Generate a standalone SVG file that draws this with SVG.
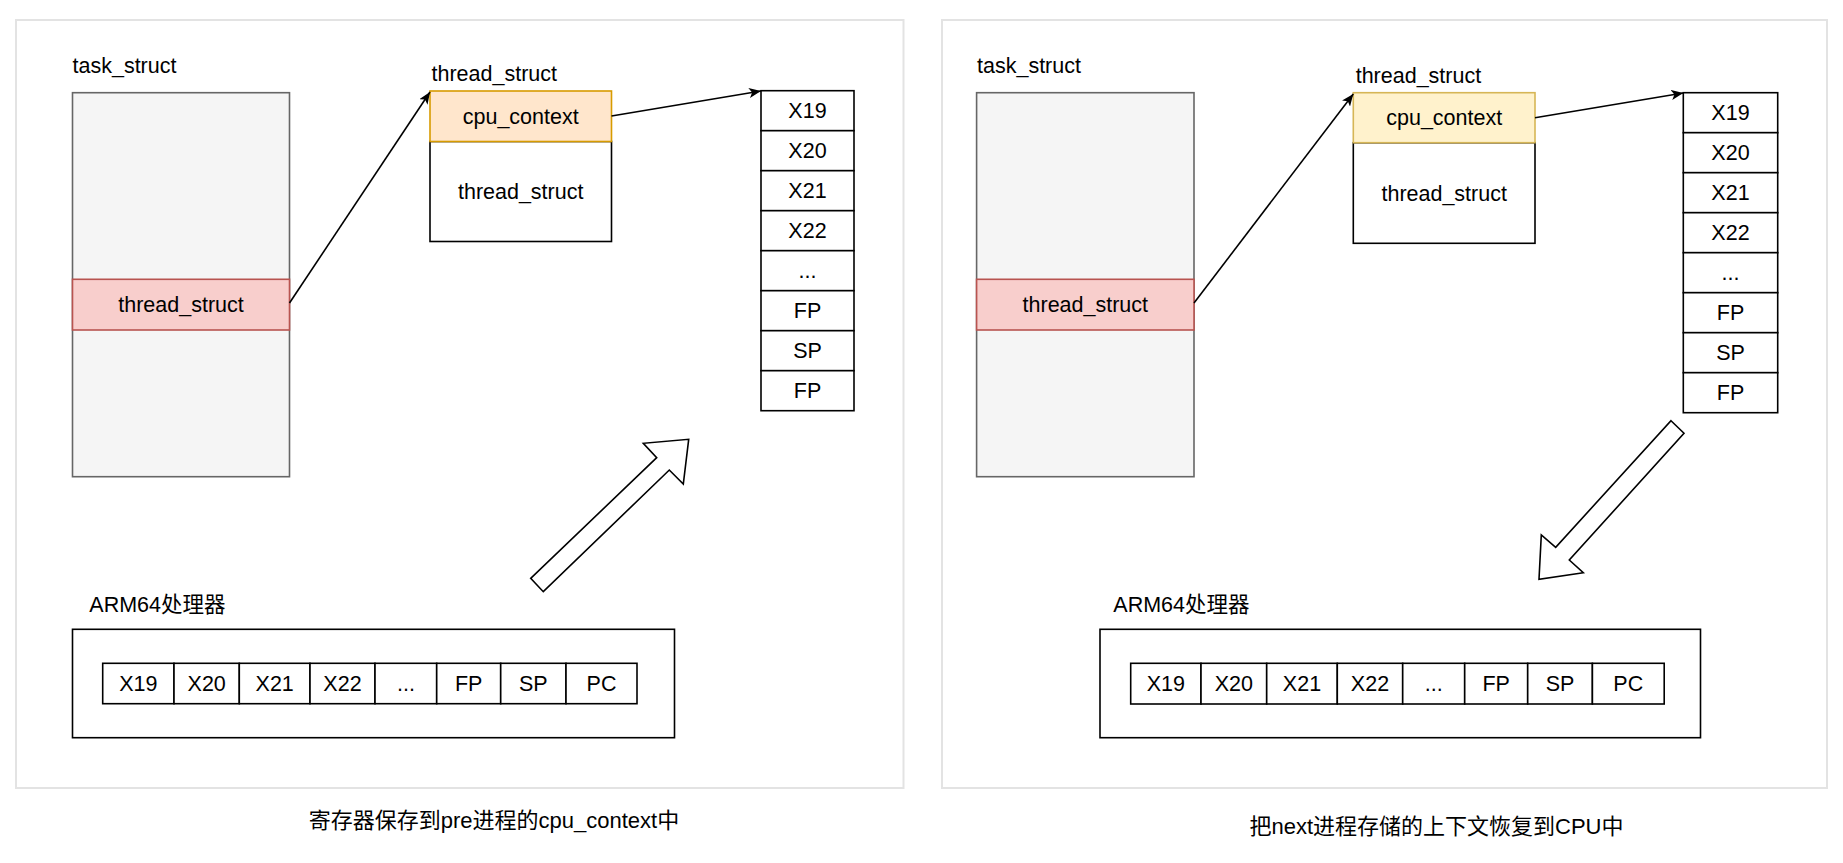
<svg xmlns="http://www.w3.org/2000/svg" width="1843" height="863" viewBox="0 0 1843 863">
<style>
text{font-family:"Liberation Sans","Noto Sans CJK SC",sans-serif;font-size:21.5px;fill:#000}
.c{text-anchor:middle}
.cap{font-size:22px}
.panel{fill:#fff;stroke:#e3e3e3;stroke-width:2}
.task{fill:#f5f5f5;stroke:#666;stroke-width:1.6}
.red{fill:#f8cecc;stroke:#b85450;stroke-width:1.6}
.orange{fill:#ffe6cc;stroke:#d79b00;stroke-width:1.6}
.yellow{fill:#fff2cc;stroke:#d6b656;stroke-width:1.6}
.box{fill:#fff;stroke:#000;stroke-width:1.6}
.edge{fill:none;stroke:#000;stroke-width:1.6}
.big{fill:#fff;stroke:#000;stroke-width:1.6;stroke-linejoin:miter}
</style>
<defs>
<marker id="arr" viewBox="0 0 12 10" refX="12" refY="5" markerWidth="12" markerHeight="10" markerUnits="userSpaceOnUse" orient="auto">
<path d="M0,0 L12,5 L0,10 L3,5 Z" fill="#000"/>
</marker>
</defs>
<rect width="1843" height="863" fill="#fff"/>

<g id="panel-left">
<rect class="panel" x="16" y="20" width="887.5" height="768"/>
</g>
<g id="panel-right">
<rect class="panel" x="942" y="20" width="885" height="768"/>
</g>

<!-- LEFT -->
<g id="task-left">
<text x="72.5" y="73">task_struct</text>
<rect class="task" x="72.5" y="92.7" width="217" height="384"/>
</g>
<g id="thread-band-left">
<rect class="red" x="72.5" y="279.3" width="217" height="50.7"/>
<text class="c" x="181" y="312">thread_struct</text>
</g>
<g id="thread-left">
<text x="431.5" y="80.5">thread_struct</text>
<rect class="box" x="430" y="141.5" width="181.5" height="100"/>
<text class="c" x="520.7" y="199">thread_struct</text>
</g>
<g id="cpuctx-left">
<rect class="orange" x="430" y="91" width="181.5" height="50.5"/>
<text class="c" x="520.7" y="124">cpu_context</text>
</g>
<g id="regcol-left">
<rect class="box" x="761" y="90.7" width="93" height="40"/>
<text class="c" x="807.5" y="118.4">X19</text>
<rect class="box" x="761" y="130.7" width="93" height="40"/>
<text class="c" x="807.5" y="158.4">X20</text>
<rect class="box" x="761" y="170.7" width="93" height="40"/>
<text class="c" x="807.5" y="198.4">X21</text>
<rect class="box" x="761" y="210.7" width="93" height="40"/>
<text class="c" x="807.5" y="238.4">X22</text>
<rect class="box" x="761" y="250.7" width="93" height="40"/>
<text class="c" x="807.5" y="278.4">...</text>
<rect class="box" x="761" y="290.7" width="93" height="40"/>
<text class="c" x="807.5" y="318.4">FP</text>
<rect class="box" x="761" y="330.7" width="93" height="40"/>
<text class="c" x="807.5" y="358.4">SP</text>
<rect class="box" x="761" y="370.7" width="93" height="40"/>
<text class="c" x="807.5" y="398.4">FP</text>
</g>
<g id="cpu-left">
<text x="89.3" y="611.7">ARM64处理器</text>
<rect class="box" x="72.5" y="629.3" width="602" height="108.4"/>
<rect class="box" x="102.7" y="663.3" width="71.3" height="40.4"/>
<text class="c" x="138.4" y="691">X19</text>
<rect class="box" x="174" y="663.3" width="65.3" height="40.4"/>
<text class="c" x="206.7" y="691">X20</text>
<rect class="box" x="239.3" y="663.3" width="70.7" height="40.4"/>
<text class="c" x="274.7" y="691">X21</text>
<rect class="box" x="310" y="663.3" width="65" height="40.4"/>
<text class="c" x="342.5" y="691">X22</text>
<rect class="box" x="375" y="663.3" width="61.7" height="40.4"/>
<text class="c" x="405.9" y="691">...</text>
<rect class="box" x="436.7" y="663.3" width="64" height="40.4"/>
<text class="c" x="468.7" y="691">FP</text>
<rect class="box" x="500.7" y="663.3" width="65.3" height="40.4"/>
<text class="c" x="533.3" y="691">SP</text>
<rect class="box" x="566" y="663.3" width="71" height="40.4"/>
<text class="c" x="601.5" y="691">PC</text>
</g>
<g id="caption-left">
<text class="c cap" x="494" y="827.5">寄存器保存到pre进程的cpu_context中</text>
</g>

<!-- RIGHT -->
<g id="task-right">
<text x="977" y="73">task_struct</text>
<rect class="task" x="976.6" y="92.7" width="217.4" height="384"/>
</g>
<g id="thread-band-right">
<rect class="red" x="976.6" y="279.3" width="217.4" height="50.7"/>
<text class="c" x="1085.3" y="312">thread_struct</text>
</g>
<g id="thread-right">
<text x="1355.7" y="83.3">thread_struct</text>
<rect class="box" x="1353.3" y="142.7" width="181.7" height="100.6"/>
<text class="c" x="1444.2" y="200.5">thread_struct</text>
</g>
<g id="cpuctx-right">
<rect class="yellow" x="1353.3" y="92.7" width="181.7" height="50"/>
<text class="c" x="1444.2" y="125.2">cpu_context</text>
</g>
<g id="regcol-right">
<rect class="box" x="1683.3" y="92.7" width="94.4" height="40"/>
<text class="c" x="1730.5" y="120.4">X19</text>
<rect class="box" x="1683.3" y="132.7" width="94.4" height="40"/>
<text class="c" x="1730.5" y="160.4">X20</text>
<rect class="box" x="1683.3" y="172.7" width="94.4" height="40"/>
<text class="c" x="1730.5" y="200.4">X21</text>
<rect class="box" x="1683.3" y="212.7" width="94.4" height="40"/>
<text class="c" x="1730.5" y="240.4">X22</text>
<rect class="box" x="1683.3" y="252.7" width="94.4" height="40"/>
<text class="c" x="1730.5" y="280.4">...</text>
<rect class="box" x="1683.3" y="292.7" width="94.4" height="40"/>
<text class="c" x="1730.5" y="320.4">FP</text>
<rect class="box" x="1683.3" y="332.7" width="94.4" height="40"/>
<text class="c" x="1730.5" y="360.4">SP</text>
<rect class="box" x="1683.3" y="372.7" width="94.4" height="40"/>
<text class="c" x="1730.5" y="400.4">FP</text>
</g>
<g id="cpu-right">
<text x="1113.3" y="612.3">ARM64处理器</text>
<rect class="box" x="1100" y="629.3" width="600.5" height="108.4"/>
<rect class="box" x="1130.7" y="663.3" width="70.3" height="40.7"/>
<text class="c" x="1165.9" y="691.2">X19</text>
<rect class="box" x="1201" y="663.3" width="65.7" height="40.7"/>
<text class="c" x="1233.9" y="691.2">X20</text>
<rect class="box" x="1266.7" y="663.3" width="70.6" height="40.7"/>
<text class="c" x="1302" y="691.2">X21</text>
<rect class="box" x="1337.3" y="663.3" width="65.4" height="40.7"/>
<text class="c" x="1370" y="691.2">X22</text>
<rect class="box" x="1402.7" y="663.3" width="62" height="40.7"/>
<text class="c" x="1433.7" y="691.2">...</text>
<rect class="box" x="1464.7" y="663.3" width="63" height="40.7"/>
<text class="c" x="1496.2" y="691.2">FP</text>
<rect class="box" x="1527.7" y="663.3" width="64.7" height="40.7"/>
<text class="c" x="1560" y="691.2">SP</text>
<rect class="box" x="1592.4" y="663.3" width="71.8" height="40.7"/>
<text class="c" x="1628.3" y="691.2">PC</text>
</g>
<g id="caption-right">
<text class="c cap" x="1436.5" y="834">把next进程存储的上下文恢复到CPU中</text>
</g>

<g id="connectors">
<line class="edge" x1="289.5" y1="303" x2="430" y2="92" marker-end="url(#arr)"/>
<line class="edge" x1="611.5" y1="116" x2="761" y2="91" marker-end="url(#arr)"/>
<line class="edge" x1="1194" y1="303" x2="1353.3" y2="94" marker-end="url(#arr)"/>
<line class="edge" x1="1535" y1="117.7" x2="1683.3" y2="93" marker-end="url(#arr)"/>
<polygon class="big" points="530.7,578.3 656.7,457.7 643.3,443.3 688.7,439.3 683.3,484 669.3,470 543.3,591.7"/>
<polygon class="big" points="1671,420.7 1684,433.3 1569.3,560 1583.3,572.7 1539,579.3 1541.3,535 1555.7,547.3"/>
</g>
</svg>
